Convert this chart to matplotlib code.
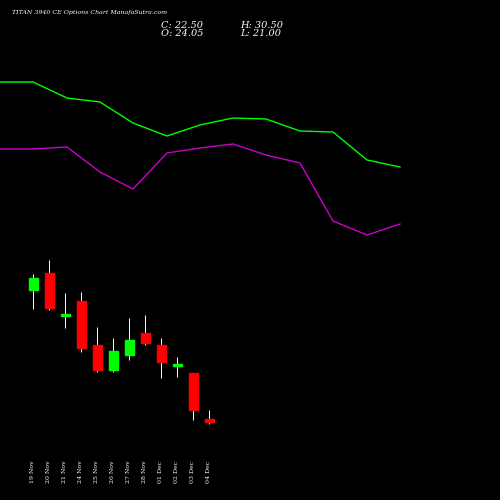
import matplotlib
matplotlib.use("Agg")
import matplotlib.pyplot as plt

# candle data (chart units, higher = up)
dates = ["19 Nov", "20 Nov", "21 Nov", "24 Nov", "25 Nov", "26 Nov",
         "27 Nov", "28 Nov", "01 Dec", "02 Dec", "03 Dec", "04 Dec"]
opens = [210, 227, 184, 199, 155, 130, 145, 167, 155, 134, 127, 81]
closes = [222, 192, 186, 152, 130, 149, 160, 157, 138, 136, 90, 78]
highs = [226, 240, 207, 208, 173, 162, 182, 185, 162, 143, 127, 90]
lows = [191, 190, 172, 148, 128, 128, 140, 155, 122, 123, 80, 76]

# moving-average style lines
line_x = [0, 33, 67, 100, 133, 167, 200, 233, 266, 300, 333, 367, 400]
green_line = [418, 418, 402, 398, 377, 364, 375, 382, 381, 369, 368, 340, 333]
magenta_line = [351, 351, 353, 328, 311, 347, 352, 356, 345, 337, 279, 265, 276]

fig = plt.figure(figsize=(5, 5), dpi=100, facecolor="black")
ax = fig.add_axes([0, 0, 1, 1], facecolor="black")
ax.set_xlim(0, 500)
ax.set_ylim(0, 500)
ax.axis("off")

ax.plot(line_x, green_line, color="#00ff00", lw=1)
ax.plot(line_x, magenta_line, color="#cc00cc", lw=1)

for i, d in enumerate(dates):
    x = 33 + 16 * i
    o, c, h, l = opens[i], closes[i], highs[i], lows[i]
    col = "#00ff00" if c >= o else "#ff0000"
    ax.vlines(x, l, h, color="white", lw=0.7, zorder=2)
    ax.bar(x, max(abs(c - o), 1.5), bottom=min(o, c), width=9,
           color=col, edgecolor=col, zorder=3)
    ax.text(x, 28, d, color="white", fontsize=4.5, rotation=90,
            ha="center", va="center", family="DejaVu Serif")

fig.text(0.024, 0.975, "TITAN 3940 CE Options Chart ManafaSutra.com",
         color="white", fontsize=4.5, style="italic", family="DejaVu Serif", va="center")
fig.text(0.322, 0.95, "C: 22.50", color="white", fontsize=7, style="italic",
         family="DejaVu Serif", va="center")
fig.text(0.322, 0.933, "O: 24.05", color="white", fontsize=7, style="italic",
         family="DejaVu Serif", va="center")
fig.text(0.48, 0.95, "H: 30.50", color="white", fontsize=7, style="italic",
         family="DejaVu Serif", va="center")
fig.text(0.48, 0.933, "L: 21.00", color="white", fontsize=7, style="italic",
         family="DejaVu Serif", va="center")

fig.savefig("out.png", facecolor="black")
